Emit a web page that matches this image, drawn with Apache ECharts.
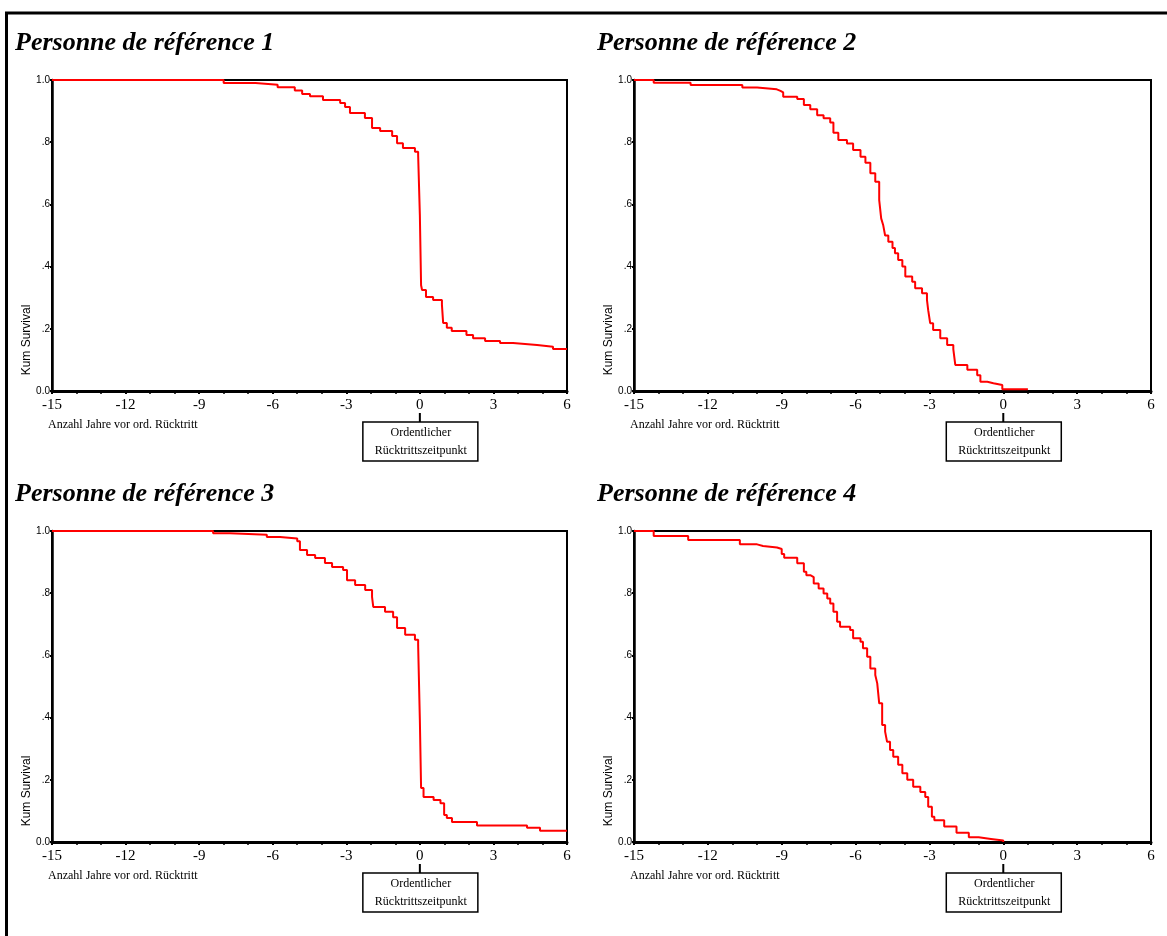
<!DOCTYPE html>
<html>
<head>
<meta charset="utf-8">
<script src="https://cdn.jsdelivr.net/npm/echarts@6/dist/echarts.min.js"></script>
<style>
  html, body { margin: 0; padding: 0; background: #ffffff; }
  #chart { width: 1167px; height: 936px; }
</style>
</head>
<body>
<div id="chart"></div>
<script>
// Kaplan-Meier curves: years before ordinary retirement vs. cumulative survival
const panelTitles = [
  'Personne de référence 1',
  'Personne de référence 2',
  'Personne de référence 3',
  'Personne de référence 4'
];

const p1Years = [-15, -8.0, -6.7, -5.8, -5.1, -4.8, -4.48, -3.95, -3.25, -3.05, -2.85, -2.24, -1.95, -1.62, -1.13, -0.93, -0.69, -0.2, -0.07, 0.0, 0.05, 0.09, 0.25, 0.54, 0.9, 0.95, 1.1, 1.3, 1.9, 2.17, 2.66, 3.27, 3.8, 4.78, 5.43, 6];
const p1Surv  = [1.0, 0.99, 0.985, 0.977, 0.966, 0.955, 0.948, 0.936, 0.926, 0.913, 0.894, 0.878, 0.846, 0.836, 0.82, 0.797, 0.781, 0.769, 0.759, 0.566, 0.34, 0.325, 0.302, 0.293, 0.277, 0.219, 0.203, 0.193, 0.18, 0.17, 0.161, 0.154, 0.148, 0.142, 0.135, 0.135];

const p2Years = [-15, -14.2, -12.7, -10.6, -10.0, -9.2, -9.05, -8.94, -8.37, -8.1, -7.84, -7.56, -7.3, -7.03, -6.9, -6.7, -6.35, -6.1, -5.8, -5.6, -5.4, -5.2, -5.04, -4.96, -4.88, -4.8, -4.67, -4.5, -4.4, -4.27, -4.1, -3.98, -3.7, -3.58, -3.3, -3.1, -3.05, -2.97, -2.85, -2.56, -2.28, -2.03, -1.95, -1.46, -1.06, -0.93, -0.65, -0.4, -0.04, 1.0];
const p2Surv  = [1.0, 0.991, 0.984, 0.976, 0.97, 0.965, 0.96, 0.946, 0.939, 0.92, 0.906, 0.887, 0.877, 0.863, 0.83, 0.807, 0.796, 0.775, 0.753, 0.734, 0.70, 0.673, 0.614, 0.555, 0.534, 0.50, 0.48, 0.46, 0.443, 0.421, 0.40, 0.368, 0.351, 0.33, 0.314, 0.293, 0.26, 0.218, 0.196, 0.17, 0.148, 0.135, 0.084, 0.068, 0.051, 0.03, 0.025, 0.019, 0.006, 0.006];

const p3Years = [-15, -8.43, -7.74, -6.24, -5.7, -5.0, -4.89, -4.6, -4.27, -3.87, -3.58, -3.13, -2.97, -2.64, -2.23, -1.95, -1.9, -1.42, -1.09, -0.93, -0.6, -0.2, -0.07, 0.0, 0.05, 0.15, 0.56, 0.84, 0.99, 1.1, 1.31, 2.33, 4.37, 4.9, 6];
const p3Surv  = [1.0, 0.993, 0.988, 0.981, 0.976, 0.967, 0.939, 0.923, 0.913, 0.897, 0.884, 0.875, 0.842, 0.826, 0.81, 0.788, 0.756, 0.74, 0.723, 0.688, 0.666, 0.65, 0.633, 0.392, 0.174, 0.145, 0.135, 0.125, 0.087, 0.077, 0.064, 0.053, 0.046, 0.036, 0.036];

const p4Years = [-15, -14.2, -12.8, -10.7, -10.0, -9.76, -9.19, -9.0, -8.9, -8.37, -8.1, -8.0, -7.84, -7.7, -7.5, -7.3, -7.15, -7.03, -6.9, -6.75, -6.63, -6.22, -6.1, -5.8, -5.7, -5.53, -5.4, -5.2, -5.12, -5.04, -4.92, -4.8, -4.72, -4.6, -4.47, -4.27, -4.1, -3.9, -3.66, -3.37, -3.17, -3.05, -2.9, -2.8, -2.4, -1.9, -1.4, -1.0, -0.5, 0.0];
const p4Surv  = [1.0, 0.984, 0.971, 0.957, 0.952, 0.947, 0.942, 0.926, 0.914, 0.896, 0.869, 0.858, 0.852, 0.831, 0.815, 0.799, 0.783, 0.767, 0.74, 0.708, 0.692, 0.682, 0.655, 0.644, 0.623, 0.596, 0.558, 0.537, 0.51, 0.446, 0.376, 0.355, 0.322, 0.296, 0.274, 0.248, 0.221, 0.2, 0.178, 0.161, 0.145, 0.113, 0.081, 0.07, 0.05, 0.03, 0.015, 0.01, 0.005, 0.0];

const yTickLabels = ['0.0', '.2', '.4', '.6', '.8', '1.0'];
const xAxisTitle = 'Anzahl Jahre vor ord. Rücktritt';
const yAxisTitle = 'Kum Survival';
const retirementNote = ['Ordentlicher', 'Rücktrittszeitpunkt'];

const seriesYears = [p1Years, p2Years, p3Years, p4Years];
const seriesSurv = [p1Surv, p2Surv, p3Surv, p4Surv];

// layout of the 2x2 panels
const layout = [
  { ox: 0,   oy: 0,   left: 52,  width: 515 },
  { ox: 582, oy: 0,   left: 634, width: 517 },
  { ox: 0,   oy: 451, left: 52,  width: 515 },
  { ox: 582, oy: 451, left: 634, width: 517 }
];
const plotTop = 80, plotHeight = 311;
const X_MIN = -15, X_MAX = 6;

const serif = '"Liberation Serif", "Times New Roman", serif';
const sans = '"Liberation Sans", Arial, sans-serif';

const grids = [], xAxes = [], yAxes = [], series = [], graphics = [];

layout.forEach((p, i) => {
  const top = plotTop + p.oy;
  grids.push({
    left: p.left, top: top, width: p.width, height: plotHeight,
    show: true, borderColor: '#000', borderWidth: 2, backgroundColor: 'transparent'
  });
  xAxes.push({
    gridIndex: i, type: 'value', min: X_MIN, max: X_MAX, interval: 3,
    axisLine: { show: true, onZero: false, lineStyle: { color: '#000', width: 3 } },
    axisTick: { show: true, length: 3, lineStyle: { color: '#000', width: 2 } },
    minorTick: { show: true, splitNumber: 3, length: 3, lineStyle: { color: '#000', width: 1.5 } },
    splitLine: { show: false },
    axisLabel: { margin: 7, color: '#000', fontFamily: serif, fontSize: 15 }
  });
  yAxes.push({
    gridIndex: i, type: 'value', min: 0, max: 1, interval: 0.2,
    axisLine: { show: true, onZero: false, lineStyle: { color: '#000', width: 2.5 } },
    axisTick: { show: true, length: 2, lineStyle: { color: '#000', width: 2 } },
    splitLine: { show: false },
    axisLabel: {
      margin: 2, color: '#000', fontFamily: sans, fontSize: 10,
      formatter: v => yTickLabels[Math.round(v * 5)]
    }
  });
  series.push({
    type: 'line', xAxisIndex: i, yAxisIndex: i, step: 'end',
    showSymbol: false, clip: false, z: 5,
    lineStyle: { color: '#ff0000', width: 2 },
    data: seriesYears[i].map((t, k) => [t, seriesSurv[i][k]])
  });

  // panel heading
  graphics.push({
    type: 'text', x: 15 + p.ox, y: 43 + p.oy,
    style: { text: panelTitles[i], font: 'italic bold 26px ' + serif, fill: '#000', textVerticalAlign: 'middle' }
  });
  // vertical axis title, near the bottom of the axis
  graphics.push({
    type: 'text', x: 27 + p.ox, y: 340 + p.oy, rotation: Math.PI / 2,
    style: { text: yAxisTitle, font: '12px ' + sans, fill: '#000', textAlign: 'center', textVerticalAlign: 'middle' }
  });
  // horizontal axis title
  graphics.push({
    type: 'text', x: 48 + p.ox, y: 425 + p.oy,
    style: { text: xAxisTitle, font: '12px ' + serif, fill: '#000', textVerticalAlign: 'middle' }
  });
  // marker box under year 0
  const zx = p.left + p.width * (0 - X_MIN) / (X_MAX - X_MIN);
  graphics.push({
    type: 'line', shape: { x1: zx, y1: 413 + p.oy, x2: zx, y2: 422 + p.oy },
    style: { stroke: '#000', lineWidth: 2 }
  });
  graphics.push({
    type: 'rect', shape: { x: zx - 57, y: 422 + p.oy, width: 115, height: 39 },
    style: { fill: '#fff', stroke: '#000', lineWidth: 1.5 }
  });
  retirementNote.forEach((line, k) => {
    graphics.push({
      type: 'text', x: zx + 1, y: 433 + 18 * k + p.oy,
      style: { text: line, font: '12px ' + serif, fill: '#000', textAlign: 'center', textVerticalAlign: 'middle' }
    });
  });
});

// outer frame (top and left edges)
graphics.push({ type: 'line', shape: { x1: 5, y1: 13, x2: 1167, y2: 13 }, style: { stroke: '#000', lineWidth: 3 } });
graphics.push({ type: 'line', shape: { x1: 6.5, y1: 12, x2: 6.5, y2: 936 }, style: { stroke: '#000', lineWidth: 3 } });

const chart = echarts.init(document.getElementById('chart'), null, { renderer: 'canvas' });
chart.setOption({
  animation: false,
  backgroundColor: '#ffffff',
  grid: grids,
  xAxis: xAxes,
  yAxis: yAxes,
  series: series,
  graphic: graphics
});
</script>
</body>
</html>
